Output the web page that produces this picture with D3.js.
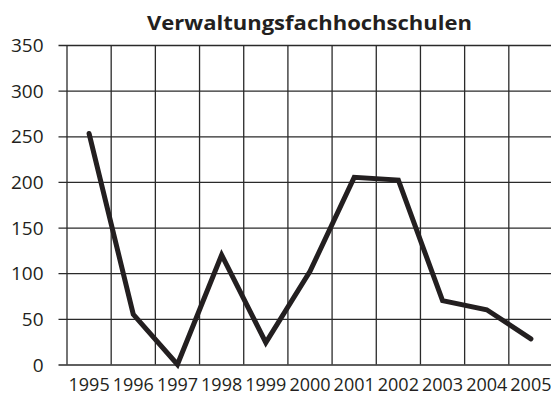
<!DOCTYPE html>
<html>
<head>
<meta charset="utf-8">
<script src="https://cdn.jsdelivr.net/npm/d3@7/dist/d3.min.js"></script>
<style>
  html, body { margin: 0; padding: 0; background: #fff; }
  svg { display: block; }
  text { font-family: "Open Sans", "Noto Sans", sans-serif; fill: #231f20; }
</style>
</head>
<body>
<svg id="chart" width="551" height="401"></svg>
<script>
const title = "Verwaltungsfachhochschulen";
const years = ["1995","1996","1997","1998","1999","2000","2001","2002","2003","2004","2005"];
const values = [253, 55, 0, 120, 24, 102, 205, 202, 70, 60, 28];
const yTicks = [0, 50, 100, 150, 200, 250, 300, 350];

const svg = d3.select("#chart");
const mLeft = 67, mRight = 553, mTop = 45, mBottom = 364.5;

const x = d3.scaleBand().domain(years).range([mLeft, mRight]).paddingInner(0).paddingOuter(0);
const y = d3.scaleLinear().domain([0, 350]).range([mBottom, mTop]);

const gridColor = "#2a2a2a";

// vertical grid lines (column boundaries)
svg.append("g").selectAll("line")
  .data(years)
  .join("line")
  .attr("x1", d => x(d)).attr("x2", d => x(d))
  .attr("y1", mTop).attr("y2", mBottom)
  .attr("stroke", gridColor).attr("stroke-width", 1.3);

// y axis with ticks extending as horizontal grid lines
const yAxis = d3.axisLeft(y).tickValues(yTicks).tickSize(0).tickPadding(0);
const gy = svg.append("g").attr("transform", `translate(${mLeft},0)`).call(yAxis);
gy.select(".domain").remove();
gy.selectAll(".tick line")
  .attr("x1", 58.5 - mLeft).attr("x2", mRight - mLeft)
  .attr("stroke", gridColor).attr("stroke-width", 1.3);
gy.selectAll(".tick text")
  .attr("x", 43.5 - mLeft)
  .attr("dy", "0.35em")
  .style("font-family", "'Open Sans', sans-serif")
  .style("font-size", "19px")
  .attr("fill", "#231f20");

// x axis labels
const xAxis = d3.axisBottom(x).tickSize(0).tickPadding(0);
const gx = svg.append("g").attr("transform", `translate(0,${mBottom})`).call(xAxis);
gx.select(".domain").remove();
gx.selectAll(".tick text")
  .attr("y", 26.5)
  .attr("dy", "0")
  .style("font-family", "'Open Sans', sans-serif")
  .style("font-size", "18px")
  .attr("fill", "#231f20");

// data line
const line = d3.line()
  .x((d, i) => x(years[i]) + x.bandwidth() / 2)
  .y(d => y(d));
svg.append("path")
  .datum(values)
  .attr("d", line)
  .attr("fill", "none")
  .attr("stroke", "#231f20")
  .attr("stroke-width", 5)
  .attr("stroke-linejoin", "miter")
  .attr("stroke-miterlimit", 4)
  .attr("stroke-linecap", "round");

// title
svg.append("text")
  .attr("x", 309.5).attr("y", 30)
  .attr("text-anchor", "middle")
  .attr("textLength", 325)
  .attr("lengthAdjust", "spacingAndGlyphs")
  .style("font-family", "'Open Sans', sans-serif")
  .style("font-weight", "bold")
  .style("font-size", "19.5px")
  .text(title);
</script>
</body>
</html>
